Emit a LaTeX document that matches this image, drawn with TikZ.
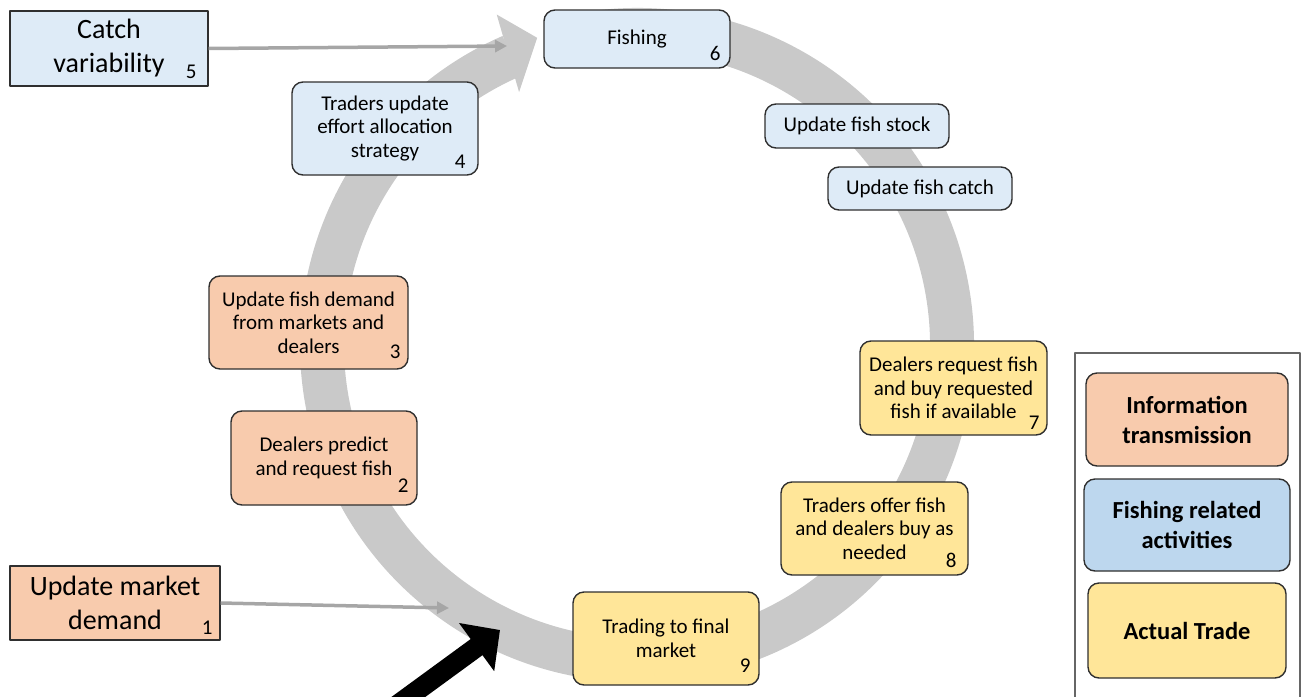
\documentclass[tikz,border=0pt]{standalone}
\usepackage{fontspec}
\setmainfont{Carlito}
\usetikzlibrary{arrows.meta,backgrounds}
\definecolor{infofill}{HTML}{F8CBAD}
\definecolor{fishfill}{HTML}{DEEBF7}
\definecolor{fishkey}{HTML}{BDD7EE}
\definecolor{tradefill}{HTML}{FFE699}
\definecolor{ringgray}{HTML}{C9C9C9}
\definecolor{linkgray}{HTML}{A6A6A6}
\definecolor{edgegray}{HTML}{2F2F2F}
\begin{document}
\begin{tikzpicture}[x=1pt,y=-1pt,line join=round]
	\tikzset{
		box/.style={draw=edgegray,line width=1.4pt,rounded corners=11pt,align=center,inner sep=0pt,font=\fontsize{21}{23.5}\selectfont},
		info/.style={box,fill=infofill},
		fish/.style={box,fill=fishfill},
		trade/.style={box,fill=tradefill},
		ext/.style={box,rounded corners=0pt,font=\fontsize{28}{34}\selectfont},
		key/.style={box,font=\fontsize{24.5}{30}\selectfont\bfseries},
		num/.style={anchor=base east,inner sep=0pt,font=\fontsize{21}{23.5}\selectfont},
		link/.style={draw=linkgray,line width=3.5pt,-{Triangle[length=12pt,width=12pt]}}
	}
	\useasboundingbox (0,0) rectangle (1303,696);
	% outside drivers
	\node[ext,fill=fishfill,minimum width=198pt,minimum height=75pt] (b5) at (109,48.5) {Catch\\variability};
	\node[ext,fill=infofill,minimum width=210pt,minimum height=74pt] (b1) at (115,603) {Update market\\demand};
	% fishing steps
	\node[fish,minimum width=186pt,minimum height=58pt] (b6) at (637,39) {Fishing};
	\node[fish,minimum width=184pt,minimum height=44pt] (stock) at (857,126) {Update fish stock};
	\node[fish,minimum width=184pt,minimum height=43pt] (catch) at (920,188.5) {Update fish catch};
	\node[fish,minimum width=186pt,minimum height=93pt] (b4) at (385,128.5) {Traders update\\effort allocation\\strategy};
	% information steps
	\node[info,minimum width=199pt,minimum height=93pt] (b3) at (308.5,322.5) {Update fish demand\\from markets and\\dealers};
	\node[info,minimum width=186pt,minimum height=94pt] (b2) at (324,458) {Dealers predict\\and request fish};
	% trade steps
	\node[trade,minimum width=187pt,minimum height=94pt] (b7) at (953.5,388) {Dealers request fish\\and buy requested\\fish if available};
	\node[trade,minimum width=187pt,minimum height=93pt] (b8) at (874.5,528.5) {Traders offer fish\\and dealers buy as\\needed};
	\node[trade,minimum width=186pt,minimum height=93pt] (b9) at (666,638.5) {Trading to final\\market};
	\foreach \b/\n/\dx/\dy in {b1/1/-8/-6,b2/2/-9/-13,b3/3/-8/-11,b4/4/-13/-7,b5/5/-12/-8,b6/6/-10/-8,b7/7/-8/-6,b8/8/-12/-8,b9/9/-9/-13}
	\node[num] (n\n) at ([shift={(\dx,\dy)}]\b.south east) {\n};
	% the cycle
	\begin{scope}[on background layer]
		\coordinate (hub) at (637,345);
		\draw[ringgray,line width=44pt] (hub) ++(-100:315) arc[start angle=-100,end angle=246.5,radius=315];
		\fill[ringgray,shift={(hub)}] (245:279) -- (252:323) -- (247:359) -- cycle;
	\end{scope}
	\coordinate (c5) at (507,46);
	\coordinate (c1) at (449,608);
	\draw[link] (b5.east) -- (c5);
	\draw[link] (b1.east) -- (c1);
	\coordinate (push) at (396,706);
	\coordinate (pushtip) at (500,630);
	\draw[black,line width=20pt,-{Triangle[length=29pt,width=58pt]}] (push) -- (pushtip);
	% legend
	\draw[draw=gray!80!black,line width=1.2pt] (1075,353) rectangle (1300,702);
	\node[key,fill=infofill,minimum width=202pt,minimum height=93pt] (kinfo) at (1187,419.5) {Information\\transmission};
	\node[key,fill=fishkey,minimum width=206pt,minimum height=92pt] (kfish) at (1187,525) {Fishing related\\activities};
	\node[key,fill=tradefill,minimum width=198pt,minimum height=95pt] (ktrade) at (1187,630.5) {Actual Trade};
\end{tikzpicture}
\end{document}
